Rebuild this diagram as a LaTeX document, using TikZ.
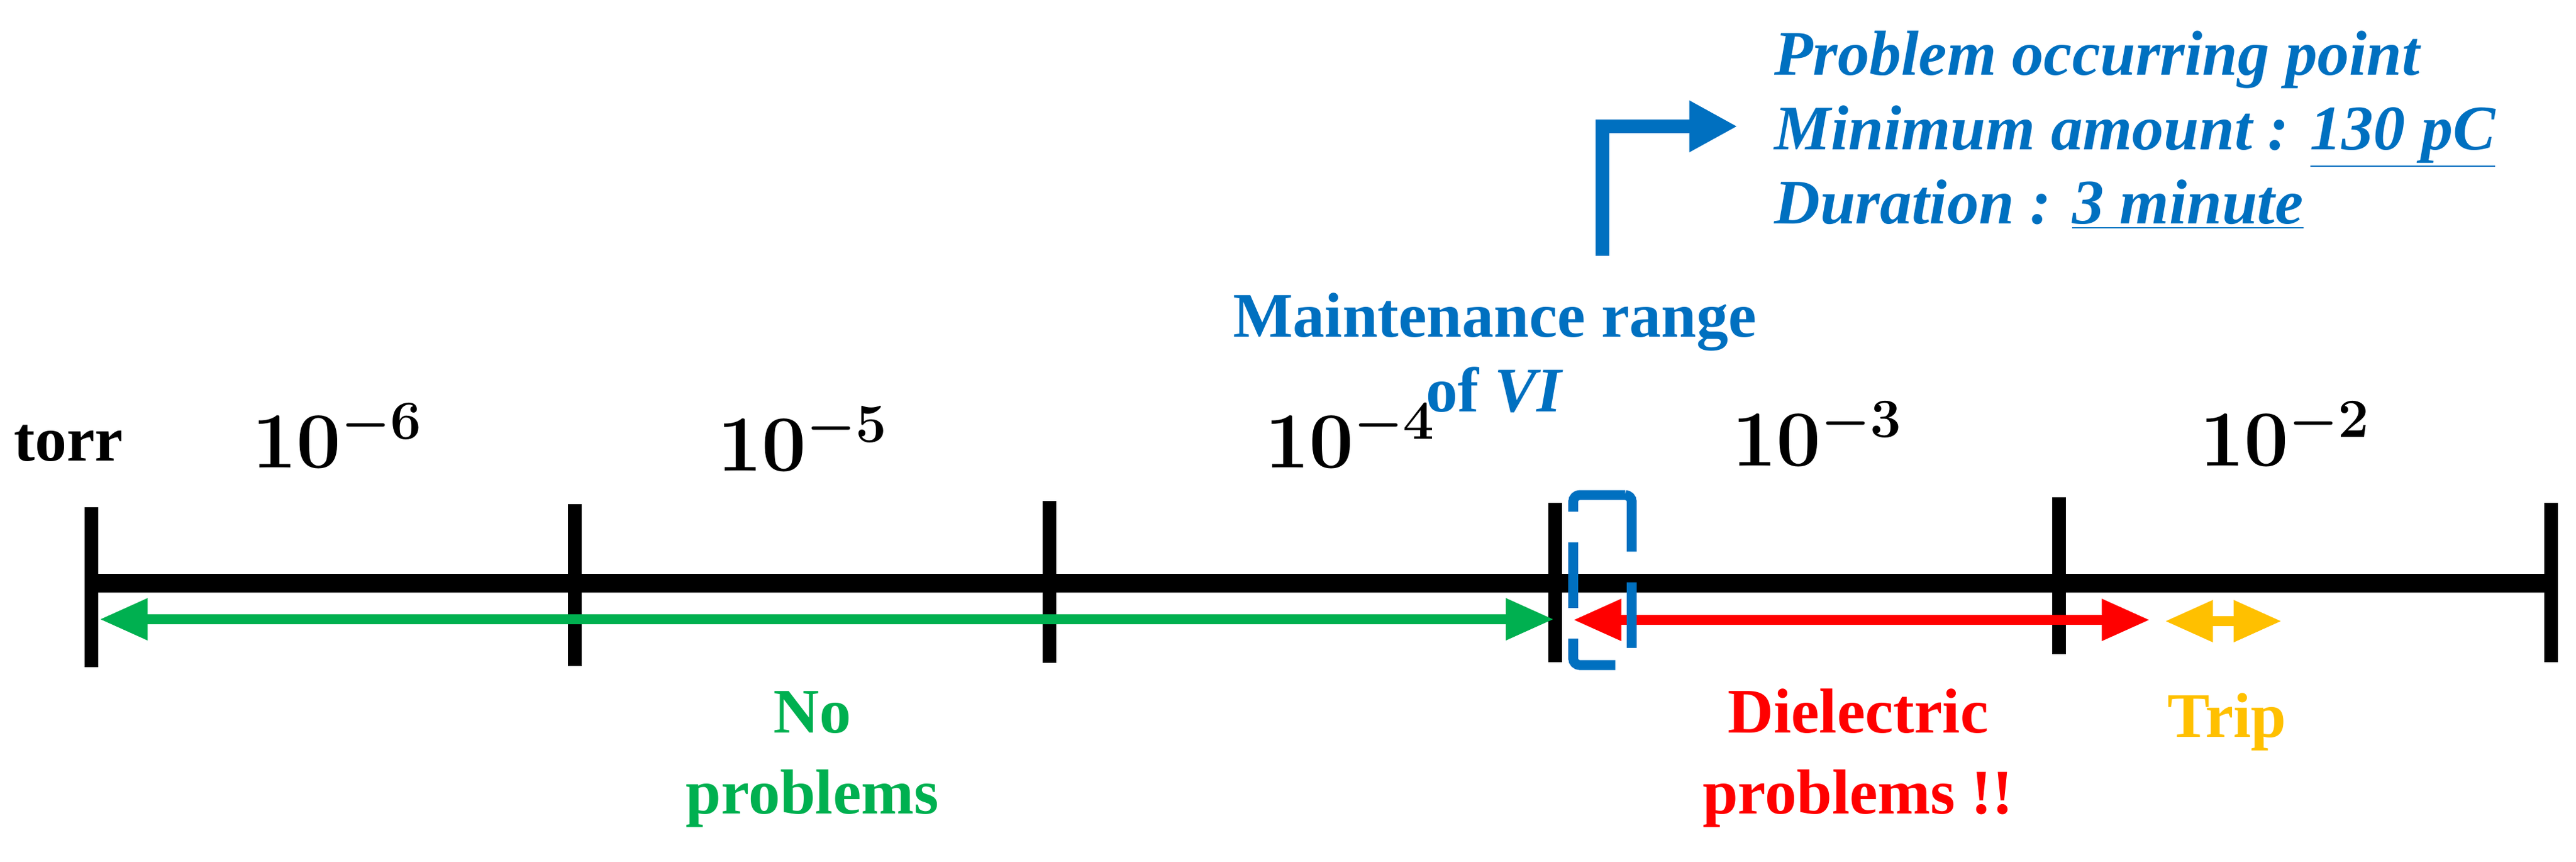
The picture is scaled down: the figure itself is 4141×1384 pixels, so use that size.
\documentclass[tikz,border=0pt]{standalone}
\usepackage{fontspec}
\setmainfont{Liberation Serif}
\usetikzlibrary{arrows.meta}
\definecolor{vblue}{RGB}{0,112,192}
\definecolor{vgreen}{RGB}{0,176,80}
\definecolor{vyellow}{RGB}{255,192,0}
\newcommand\mypwr[1]{\scalebox{1.75}{\fontsize{20.74}{24}\selectfont\boldmath$10^{-#1}$}}
\begin{document}
\begin{tikzpicture}[x=0.01cm,y=-0.01cm,
  tick/.style={line width=6pt},
  lbl/.style={font=\fontsize{29}{35}\selectfont\bfseries},
  pw/.style={inner sep=0pt},
  rng/.style={line width=4.5pt,{Triangle[length=22pt,width=18pt]}-{Triangle[length=22pt,width=18pt]}}]
\useasboundingbox (0,0) rectangle (4141,1384);
\coordinate (L) at (147,937); \coordinate (R) at (4101,937);
\draw[line width=8.5pt] (L) -- (R);
\foreach \n/\x/\a/\b in {t0/147/815/1072,t1/924/810/1070,t2/1687/805/1065,t3/2500/808/1064,t4/3310/799/1051,t5/4101/808/1064}{
  \coordinate (\n a) at (\x,\a); \coordinate (\n b) at (\x,\b);
  \draw[tick] (\n a) -- (\n b);}
\node[lbl] (torr) at (110,712) {torr};
\node[pw] (p6) at (543,700) {\mypwr{6}};
\node[pw] (p5) at (1291,705) {\mypwr{5}};
\node[pw] (p4) at (2171,700) {\mypwr{4}};
\node[pw] (p3) at (2922,697) {\mypwr{3}};
\node[pw] (p2) at (3674,697) {\mypwr{2}};
\coordinate (g1) at (160,995); \coordinate (g2) at (2498,995);
\draw[rng,vgreen] (g1) -- (g2);
\coordinate (r1) at (2529,996); \coordinate (r2) at (3456,996);
\draw[rng,red] (r1) -- (r2);
\coordinate (y1) at (3480,998); \coordinate (y2) at (3668,998);
\draw[rng,vyellow] (y1) -- (y2);
\node[draw=vblue,line width=4.5pt,dash pattern=on 30pt off 14pt,rounded corners=3pt,minimum width=0.94cm,minimum height=2.73cm,inner sep=0] (box) at (2576,932) {};
\node[vblue,align=center,font=\fontsize{29}{34}\selectfont\bfseries] (mr) at (2403,567) {Maintenance range\\of \textit{VI}};
\coordinate (a0) at (2576,411); \coordinate (a1) at (2576,203); \coordinate (a2) at (2793,203);
\draw[vblue,line width=6pt,-{Triangle[length=22pt,width=22pt]}] (a0) -- (a1) -- (a2);
\node[vblue,anchor=west,align=left,font=\fontsize{29}{34}\selectfont\bfseries\itshape] (info) at (2840,209)
 {Problem occurring point\\Minimum amount : \underline{130 pC}\\Duration : \underline{3 minute}};
\node[vgreen,align=center,font=\fontsize{29}{37}\selectfont\bfseries] (np) at (1306,1220) {No\\problems};
\node[red,align=center,font=\fontsize{29}{37}\selectfont\bfseries] (dp) at (2987,1218) {Dielectric\\problems !!};
\node[lbl,vyellow] (tr) at (3580,1160) {Trip};
\end{tikzpicture}
\end{document}
